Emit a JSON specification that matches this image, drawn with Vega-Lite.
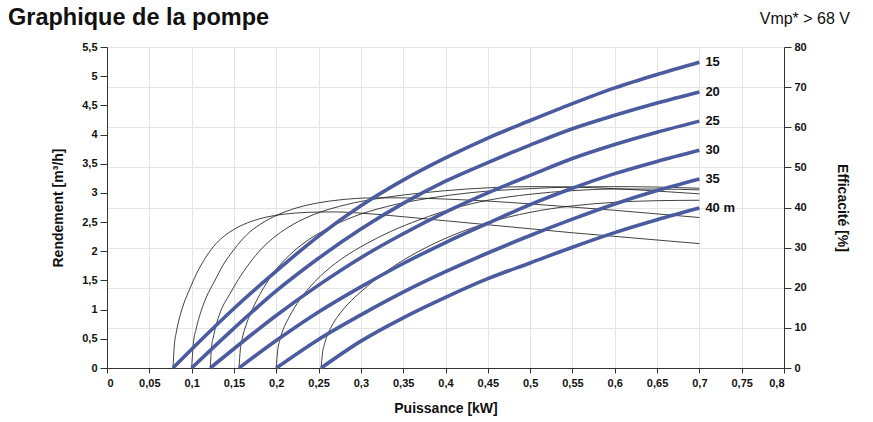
{
"$schema": "https://vega.github.io/schema/vega-lite/v6.json",
"width": 677, "height": 321,
"autosize": {"type": "none"},
"padding": {"left": 107, "top": 47, "right": 89, "bottom": 54},
"background": "white",
"config": {
 "font": "Liberation Sans",
 "view": {"stroke": "#9a9a9a", "strokeWidth": 1},
 "axis": {"labelFont": "Liberation Sans", "labelFontWeight": "bold", "labelFontSize": 11, "labelColor": "#111", "labelOverlap": false, "titleFont": "Liberation Sans", "titleFontWeight": "bold", "titleFontSize": 14, "titleColor": "#111", "domainColor": "#333", "tickColor": "#333", "tickSize": 6, "gridColor": "#e4e4e4", "gridWidth": 1}
},
"title": {"text": "Graphique de la pompe", "anchor": "start", "frame": "group", "dx": -99, "dy": 32, "offset": 14, "fontSize": 23.5, "font": "Liberation Sans", "fontWeight": "bold", "color": "#111"},
"datasets": {
 "pump": [
  {"h":"15","P":0.078,"Q":0},{"h":"15","P":0.1,"Q":0.32},{"h":"15","P":0.15,"Q":1.02},{"h":"15","P":0.2,"Q":1.66},{"h":"15","P":0.25,"Q":2.26},{"h":"15","P":0.3,"Q":2.78},{"h":"15","P":0.35,"Q":3.22},{"h":"15","P":0.4,"Q":3.6},{"h":"15","P":0.45,"Q":3.94},{"h":"15","P":0.5,"Q":4.24},{"h":"15","P":0.55,"Q":4.53},{"h":"15","P":0.6,"Q":4.8},{"h":"15","P":0.65,"Q":5.03},{"h":"15","P":0.7,"Q":5.24},
  {"h":"20","P":0.1,"Q":0},{"h":"20","P":0.15,"Q":0.68},{"h":"20","P":0.2,"Q":1.32},{"h":"20","P":0.25,"Q":1.88},{"h":"20","P":0.3,"Q":2.38},{"h":"20","P":0.35,"Q":2.82},{"h":"20","P":0.4,"Q":3.2},{"h":"20","P":0.45,"Q":3.52},{"h":"20","P":0.5,"Q":3.82},{"h":"20","P":0.55,"Q":4.1},{"h":"20","P":0.6,"Q":4.33},{"h":"20","P":0.65,"Q":4.54},{"h":"20","P":0.7,"Q":4.73},
  {"h":"25","P":0.122,"Q":0},{"h":"25","P":0.15,"Q":0.33},{"h":"25","P":0.2,"Q":0.9},{"h":"25","P":0.25,"Q":1.42},{"h":"25","P":0.3,"Q":1.89},{"h":"25","P":0.35,"Q":2.3},{"h":"25","P":0.4,"Q":2.67},{"h":"25","P":0.45,"Q":3.0},{"h":"25","P":0.5,"Q":3.3},{"h":"25","P":0.55,"Q":3.59},{"h":"25","P":0.6,"Q":3.83},{"h":"25","P":0.65,"Q":4.04},{"h":"25","P":0.7,"Q":4.23},
  {"h":"30","P":0.156,"Q":0},{"h":"30","P":0.2,"Q":0.47},{"h":"30","P":0.25,"Q":0.96},{"h":"30","P":0.3,"Q":1.39},{"h":"30","P":0.35,"Q":1.79},{"h":"30","P":0.4,"Q":2.15},{"h":"30","P":0.45,"Q":2.48},{"h":"30","P":0.5,"Q":2.8},{"h":"30","P":0.55,"Q":3.08},{"h":"30","P":0.6,"Q":3.33},{"h":"30","P":0.65,"Q":3.54},{"h":"30","P":0.7,"Q":3.73},
  {"h":"35","P":0.2,"Q":0},{"h":"35","P":0.25,"Q":0.49},{"h":"35","P":0.3,"Q":0.91},{"h":"35","P":0.35,"Q":1.3},{"h":"35","P":0.4,"Q":1.65},{"h":"35","P":0.45,"Q":1.97},{"h":"35","P":0.5,"Q":2.27},{"h":"35","P":0.55,"Q":2.55},{"h":"35","P":0.6,"Q":2.81},{"h":"35","P":0.65,"Q":3.04},{"h":"35","P":0.7,"Q":3.24},
  {"h":"40","P":0.253,"Q":0},{"h":"40","P":0.3,"Q":0.46},{"h":"40","P":0.35,"Q":0.86},{"h":"40","P":0.4,"Q":1.21},{"h":"40","P":0.45,"Q":1.53},{"h":"40","P":0.5,"Q":1.8},{"h":"40","P":0.55,"Q":2.07},{"h":"40","P":0.6,"Q":2.32},{"h":"40","P":0.65,"Q":2.54},{"h":"40","P":0.7,"Q":2.74}
 ],
 "eff": [
  {"h":"15","P":0.078,"E":0},{"h":"15","P":0.0795,"E":5.5},{"h":"15","P":0.082,"E":9},{"h":"15","P":0.086,"E":12.8},{"h":"15","P":0.091,"E":16.2},{"h":"15","P":0.098,"E":19.8},{"h":"15","P":0.106,"E":23.6},{"h":"15","P":0.115,"E":27},{"h":"15","P":0.126,"E":30.3},{"h":"15","P":0.138,"E":32.8},{"h":"15","P":0.153,"E":34.9},{"h":"15","P":0.17,"E":36.5},{"h":"15","P":0.188,"E":37.6},{"h":"15","P":0.208,"E":38.3},{"h":"15","P":0.238,"E":38.8},{"h":"15","P":0.27,"E":38.9},{"h":"15","P":0.3,"E":38.6},{"h":"15","P":0.35,"E":37.7},{"h":"15","P":0.4,"E":36.7},{"h":"15","P":0.45,"E":35.7},{"h":"15","P":0.5,"E":34.7},{"h":"15","P":0.55,"E":33.7},{"h":"15","P":0.6,"E":32.8},{"h":"15","P":0.65,"E":31.9},{"h":"15","P":0.7,"E":31.0},
  {"h":"20","P":0.1,"E":0},{"h":"20","P":0.102,"E":6},{"h":"20","P":0.1054,"E":9.8},{"h":"20","P":0.1109,"E":14},{"h":"20","P":0.1175,"E":17.7},{"h":"20","P":0.127,"E":21.6},{"h":"20","P":0.1376,"E":25.8},{"h":"20","P":0.15,"E":29.5},{"h":"20","P":0.1646,"E":33.1},{"h":"20","P":0.181,"E":35.8},{"h":"20","P":0.201,"E":38.1},{"h":"20","P":0.224,"E":39.9},{"h":"20","P":0.248,"E":41.1},{"h":"20","P":0.275,"E":41.9},{"h":"20","P":0.315,"E":42.4},{"h":"20","P":0.35,"E":42.4},{"h":"20","P":0.4,"E":42.1},{"h":"20","P":0.45,"E":41.6},{"h":"20","P":0.5,"E":40.9},{"h":"20","P":0.55,"E":40.1},{"h":"20","P":0.6,"E":39.3},{"h":"20","P":0.65,"E":38.4},{"h":"20","P":0.7,"E":37.5},
  {"h":"25","P":0.122,"E":0},{"h":"25","P":0.1235,"E":5},{"h":"25","P":0.126,"E":8},{"h":"25","P":0.13,"E":11.5},{"h":"25","P":0.136,"E":15},{"h":"25","P":0.144,"E":18},{"h":"25","P":0.155,"E":22},{"h":"25","P":0.168,"E":26},{"h":"25","P":0.183,"E":29.8},{"h":"25","P":0.2,"E":33},{"h":"25","P":0.22,"E":35.8},{"h":"25","P":0.245,"E":38.3},{"h":"25","P":0.275,"E":40.3},{"h":"25","P":0.31,"E":41.9},{"h":"25","P":0.35,"E":43.1},{"h":"25","P":0.4,"E":44.2},{"h":"25","P":0.45,"E":44.9},{"h":"25","P":0.5,"E":45.2},{"h":"25","P":0.55,"E":45.1},{"h":"25","P":0.6,"E":44.7},{"h":"25","P":0.65,"E":44.1},{"h":"25","P":0.7,"E":43.4},
  {"h":"30","P":0.156,"E":0},{"h":"30","P":0.1575,"E":4.5},{"h":"30","P":0.16,"E":7.5},{"h":"30","P":0.164,"E":10.5},{"h":"30","P":0.17,"E":13.8},{"h":"30","P":0.178,"E":17.3},{"h":"30","P":0.188,"E":21},{"h":"30","P":0.2,"E":24.6},{"h":"30","P":0.215,"E":28},{"h":"30","P":0.235,"E":31.5},{"h":"30","P":0.26,"E":34.7},{"h":"30","P":0.29,"E":37.6},{"h":"30","P":0.33,"E":40.2},{"h":"30","P":0.38,"E":42.3},{"h":"30","P":0.43,"E":43.7},{"h":"30","P":0.5,"E":44.7},{"h":"30","P":0.55,"E":45.1},{"h":"30","P":0.6,"E":45.2},{"h":"30","P":0.65,"E":45.1},{"h":"30","P":0.7,"E":44.8},
  {"h":"35","P":0.2,"E":0},{"h":"35","P":0.2015,"E":4},{"h":"35","P":0.204,"E":6.8},{"h":"35","P":0.208,"E":9.5},{"h":"35","P":0.214,"E":12.2},{"h":"35","P":0.222,"E":15.2},{"h":"35","P":0.232,"E":18.2},{"h":"35","P":0.245,"E":21.4},{"h":"35","P":0.26,"E":24.4},{"h":"35","P":0.28,"E":27.6},{"h":"35","P":0.305,"E":30.8},{"h":"35","P":0.335,"E":34},{"h":"35","P":0.37,"E":37},{"h":"35","P":0.41,"E":39.8},{"h":"35","P":0.45,"E":41.8},{"h":"35","P":0.5,"E":43.3},{"h":"35","P":0.55,"E":44.2},{"h":"35","P":0.6,"E":44.6},{"h":"35","P":0.65,"E":44.6},{"h":"35","P":0.7,"E":44.4},
  {"h":"40","P":0.253,"E":0},{"h":"40","P":0.2545,"E":3.5},{"h":"40","P":0.257,"E":6},{"h":"40","P":0.261,"E":8.5},{"h":"40","P":0.267,"E":11},{"h":"40","P":0.275,"E":13.5},{"h":"40","P":0.285,"E":16},{"h":"40","P":0.3,"E":19},{"h":"40","P":0.32,"E":22.5},{"h":"40","P":0.345,"E":26.2},{"h":"40","P":0.375,"E":29.8},{"h":"40","P":0.41,"E":33.2},{"h":"40","P":0.45,"E":36.2},{"h":"40","P":0.5,"E":38.8},{"h":"40","P":0.55,"E":40.4},{"h":"40","P":0.6,"E":41.3},{"h":"40","P":0.65,"E":41.7},{"h":"40","P":0.7,"E":41.8}
 ],
 "labels": [
  {"P":0.7,"Q":5.24,"t":"15"},{"P":0.7,"Q":4.73,"t":"20"},{"P":0.7,"Q":4.23,"t":"25"},{"P":0.7,"Q":3.73,"t":"30"},{"P":0.7,"Q":3.24,"t":"35"},{"P":0.7,"Q":2.74,"t":"40 m"}
 ]
},
"resolve": {"scale": {"y": "independent"}, "axis": {"y": "independent"}},
"layer": [
 {
  "data": {"name": "eff"},
  "mark": {"type": "line", "interpolate": "monotone", "color": "#111", "strokeWidth": 0.8},
  "encoding": {
   "x": {"field": "P", "type": "quantitative", "scale": {"domain": [0, 0.8], "nice": false},
    "axis": {"title": "Puissance [kW]", "values": [0,0.05,0.1,0.15,0.2,0.25,0.3,0.35,0.4,0.45,0.5,0.55,0.6,0.65,0.7,0.75,0.8], "labelExpr": "replace(format(datum.value, '.2~f'), '.', ',')", "labelPadding": 4, "titlePadding": 13, "tickSize": 5, "labelOverlap": false}},
   "y": {"field": "E", "type": "quantitative", "scale": {"domain": [0, 80], "nice": false},
    "axis": {"orient": "right", "title": "Efficacité [%]", "values": [0,10,20,30,40,50,60,70,80], "titlePadding": 28, "labelPadding": 3, "tickSize": 7, "labelOverlap": false}},
   "detail": {"field": "h"}
  }
 },
 {
  "data": {"name": "pump"},
  "encoding": {
   "x": {"field": "P", "type": "quantitative"},
   "y": {"field": "Q", "type": "quantitative", "scale": {"domain": [0, 5.5], "nice": false},
    "axis": {"orient": "left", "title": "Rendement [m³/h]", "values": [0,0.5,1,1.5,2,2.5,3,3.5,4,4.5,5,5.5], "labelExpr": "replace(format(datum.value, '.1~f'), '.', ',')", "labelOverlap": false, "titlePadding": 16, "labelPadding": 3, "tickSize": 7}}
  },
  "layer": [
   {
    "mark": {"type": "line", "interpolate": "monotone", "color": "#4a5b9f", "strokeWidth": 3.6},
    "encoding": {"detail": {"field": "h"}}
   },
   {
    "data": {"name": "labels"},
    "mark": {"type": "text", "align": "left", "baseline": "middle", "dx": 6, "fontSize": 13, "fontWeight": "bold", "font": "Liberation Sans", "color": "#111"},
    "encoding": {"text": {"field": "t"}}
   },
   {
    "data": {"values": [{"P": 0.8, "Q": 5.5, "t": "Vmp* > 68 V"}]},
    "mark": {"type": "text", "align": "right", "baseline": "middle", "dx": 66, "dy": -28, "fontSize": 16, "font": "Liberation Sans", "color": "#111"},
    "encoding": {"text": {"field": "t"}}
   }
  ]
 }
]
}
